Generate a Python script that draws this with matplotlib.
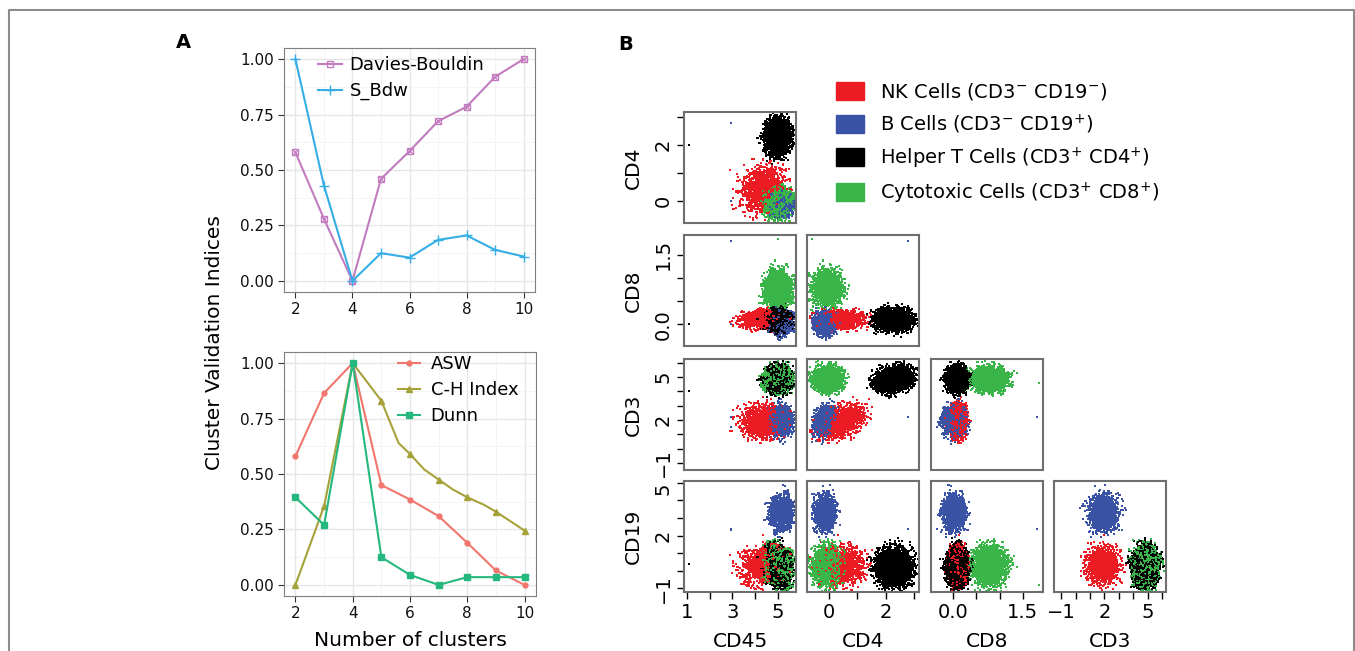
import numpy as np
import matplotlib.pyplot as plt
from matplotlib.lines import Line2D
from matplotlib.patches import Patch

plt.rcParams['font.family'] = 'DejaVu Sans'
plt.rcParams['mathtext.default'] = 'regular'

# ---------------- panel A data ----------------
n_clusters = [2, 3, 4, 5, 6, 7, 8, 9, 10]
davies_bouldin = [0.58, 0.28, 0.0, 0.46, 0.585, 0.72, 0.785, 0.92, 1.0]
s_bdw = [1.0, 0.43, 0.0, 0.125, 0.105, 0.185, 0.205, 0.14, 0.11]
asw = [0.58, 0.865, 1.0, 0.45, 0.385, 0.31, 0.19, 0.065, 0.0]
ch_index = [0.0, 0.355, 1.0, 0.83, 0.59, 0.475, 0.395, 0.33, 0.245]
ch_line_x = [2, 3, 4, 5, 5.6, 6, 6.5, 7, 7.5, 8, 8.6, 9, 10]
ch_line_y = [0.0, 0.355, 1.0, 0.83, 0.64, 0.59, 0.52, 0.475, 0.43, 0.395, 0.36, 0.33, 0.245]
dunn = [0.395, 0.27, 1.0, 0.125, 0.045, 0.0, 0.035, 0.035, 0.035]

# ---------------- panel B data ----------------
markers = ['CD45', 'CD4', 'CD8', 'CD3', 'CD19']
populations = ['NK Cells (CD3$^{-}$ CD19$^{-}$)', 'B Cells (CD3$^{-}$ CD19$^{+}$)',
               'Helper T Cells (CD3$^{+}$ CD4$^{+}$)', 'Cytotoxic Cells (CD3$^{+}$ CD8$^{+}$)']
pop_colors = ['#ED1C24', '#3A53A4', '#000000', '#3AB54A']
pop_counts = [1200, 1200, 3000, 2200]
# centre / spread of each population on each marker (CD45, CD4, CD8, CD3, CD19)
pop_means = [[4.35, 0.45, 0.1, 1.9, 0.3],
             [5.15, -0.15, 0.02, 1.95, 3.3],
             [5.0, 2.3, 0.1, 4.85, 0.2],
             [5.0, -0.05, 0.78, 4.85, 0.3]]
pop_sds = [[0.45, 0.38, 0.09, 0.55, 0.5],
           [0.24, 0.18, 0.12, 0.5, 0.5],
           [0.25, 0.3, 0.11, 0.4, 0.5],
           [0.28, 0.24, 0.18, 0.4, 0.5]]
# within-population correlations: (population, marker a, marker b, rho)
pop_corr = [(0, 'CD4', 'CD3', 0.45), (0, 'CD45', 'CD4', 0.15),
            (1, 'CD4', 'CD3', 0.3), (2, 'CD4', 'CD3', 0.2)]
# a few isolated events
outlier_pop = [2, 1, 3, 0, 1]
outlier_vals = [[1.1, 2.0, 0.0, 4.0, 0.4],
                [2.95, 2.8, 1.8, 2.2, 2.4],
                [5.0, -0.6, 1.85, 4.6, -0.8],
                [2.9, 1.1, 0.05, 1.2, 0.9],
                [2.95, 0.0, 0.0, 1.5, 2.3]]
marker_lims = {'CD45': (0.87, 5.8), 'CD4': (-0.79, 3.18), 'CD8': (-0.47, 1.93),
               'CD3': (-1.5, 6.27), 'CD19': (-1.2, 5.1)}
marker_ticks = {'CD45': [1, 2, 3, 4, 5], 'CD4': [0, 1, 2, 3], 'CD8': [0, 0.5, 1.0, 1.5],
                'CD3': [-1, 0, 1, 2, 3, 4, 5, 6], 'CD19': [-1, 0, 1, 2, 3, 4, 5]}
marker_ticklabels = {'CD45': {1: '1', 3: '3', 5: '5'}, 'CD4': {0: '0', 2: '2'},
                     'CD8': {0: '0.0', 1.5: '1.5'},
                     'CD3': {-1: '\u22121', 2: '2', 5: '5'},
                     'CD19': {-1: '\u22121', 2: '2', 5: '5'}}


def quasi_normal(n, dims, offset):
    # low discrepancy sequence pushed through Box-Muller, kept inside a ball
    d = 2 * dims
    g = 1.5
    for _ in range(40):
        g = (1 + g) ** (1.0 / (d + 1))
    alpha = (1.0 / g) ** np.arange(1, d + 1) % 1
    idx = np.arange(offset + 1, offset + 3 * n + 1)[:, None]
    u = (0.5 + idx * alpha) % 1
    r = np.sqrt(-2 * np.log(np.clip(u[:, :dims], 1e-6, 1)))
    z = r * np.cos(2 * np.pi * u[:, dims:])
    z = z[np.sqrt((z ** 2).sum(axis=1)) < 3.8]
    return z[:n]


W, H = 1355, 651
fig = plt.figure(figsize=(W / 100, H / 100), dpi=100)


def px_axes(l, t, w, h):
    return fig.add_axes([l / W, 1 - (t + h) / H, w / W, h / H])


# figure frame
fig.add_artist(Line2D([9 / W, 9 / W, 1354 / W, 1354 / W], [0, 1 - 10 / H, 1 - 10 / H, 0],
                      transform=fig.transFigure, color='#8c8c8c', lw=1.5))


def style_gg(ax):
    ax.set_xlim(1.6, 10.4)
    ax.set_ylim(-0.05, 1.05)
    ax.set_xticks([2, 4, 6, 8, 10])
    ax.set_yticks([0, 0.25, 0.5, 0.75, 1.0])
    ax.set_yticklabels(['0.00', '0.25', '0.50', '0.75', '1.00'])
    ax.set_xticks([3, 5, 7, 9], minor=True)
    ax.set_yticks([0.125, 0.375, 0.625, 0.875], minor=True)
    ax.grid(which='major', color='#e6e6e6', lw=1.0)
    ax.grid(which='minor', color='#f2f2f2', lw=0.6)
    ax.set_axisbelow(True)
    for s in ax.spines.values():
        s.set_color('#7f7f7f')
    ax.tick_params(which='major', length=4, color='#333333', labelsize=11, labelcolor='#111111')
    ax.tick_params(which='minor', length=0)


axA1 = px_axes(284, 48, 251, 244)
style_gg(axA1)
axA1.plot(n_clusters, davies_bouldin, color='#C27BBF', lw=1.5, marker='s', ms=5,
          mfc='none', mew=1.0)
axA1.plot(n_clusters, davies_bouldin, color='#C27BBF', lw=0, marker='x', ms=4, mew=0.8)
axA1.plot(n_clusters, s_bdw, color='#35AEE6', lw=1.5, marker='+', ms=7, mew=1.0)
hA1 = [Line2D([], [], color='#C27BBF', lw=1.5, marker='s', ms=5, mfc='none', mew=1.0),
       Line2D([], [], color='#35AEE6', lw=1.5, marker='+', ms=7, mew=1.0)]
axA1.legend(hA1, ['Davies-Bouldin', 'S_Bdw'], loc='upper left', bbox_to_anchor=(0.107, 0.997),
            frameon=False, fontsize=13, handlelength=1.3, handletextpad=0.45, labelspacing=0.45,
            borderaxespad=0)

axA2 = px_axes(284, 352, 252, 244)
style_gg(axA2)
axA2.plot(n_clusters, asw, color='#F0766E', lw=1.5, marker='o', ms=3.5)
axA2.plot(ch_line_x, ch_line_y, color='#A6A23A', lw=1.5)
axA2.plot(n_clusters, ch_index, color='#A6A23A', lw=0, marker='^', ms=5)
axA2.plot(n_clusters, dunn, color='#25B87E', lw=1.5, marker='s', ms=5)
hA2 = [Line2D([], [], color='#F0766E', lw=1.5, marker='o', ms=3.5),
       Line2D([], [], color='#A6A23A', lw=1.5, marker='^', ms=5),
       Line2D([], [], color='#25B87E', lw=1.5, marker='s', ms=5)]
axA2.legend(hA2, ['ASW', 'C-H Index', 'Dunn'], loc='upper left', bbox_to_anchor=(0.424, 1.018),
            frameon=False, fontsize=13, handlelength=1.2, handletextpad=0.6, labelspacing=0.45,
            borderaxespad=0)
axA2.set_xlabel('Number of clusters', fontsize=14.5, labelpad=7)

fig.text(215 / W, 1 - 343 / H, 'Cluster Validation Indices', rotation=90, fontsize=14.5,
         ha='center', va='center')
fig.text(183 / W, 1 - 43 / H, 'A', fontsize=14, fontweight='bold', ha='center', va='center')
fig.text(626 / W, 1 - 44 / H, 'B', fontsize=14, fontweight='bold', ha='center', va='center')

# ---------------- panel B ----------------
cols, colors = [], []
for p in range(len(populations)):
    z = quasi_normal(pop_counts[p], len(markers), offset=1000 * (p + 1))
    for q, a, b, rho in pop_corr:
        if q == p:
            ia, ib = markers.index(a), markers.index(b)
            z[:, ib] = rho * z[:, ia] + np.sqrt(1 - rho ** 2) * z[:, ib]
    cols.append(np.array(pop_means[p]) + z * np.array(pop_sds[p]))
    colors += [pop_colors[p]] * len(z)
for p, v in zip(outlier_pop, outlier_vals):
    cols.append(np.array([v]))
    colors.append(pop_colors[p])
events = np.vstack(cols)
colors = np.array(colors)
order = (np.arange(len(events)) * 7919) % len(events)
events, colors = events[order], colors[order]

col_left = [684, 807, 931, 1054]
row_top = [112, 235, 359, 481]
row_vars = ['CD4', 'CD8', 'CD3', 'CD19']
col_vars = ['CD45', 'CD4', 'CD8', 'CD3']


def set_marker_axis(ax, which, m):
    ticks = marker_ticks[m]
    labs = [marker_ticklabels[m].get(t, '') for t in ticks]
    if which == 'x':
        ax.set_xticks(ticks)
        ax.set_xticklabels(labs)
    else:
        ax.set_yticks(ticks)
        tl = ax.set_yticklabels(labs, rotation=90, va='center')
        # topmost label kept inside the panel, as in the source figure
        if ticks[-1] > marker_lims[m][1] - 0.05 * (marker_lims[m][1] - marker_lims[m][0]):
            tl[-1].set_va('top')


for i, rv in enumerate(row_vars):
    for j in range(i + 1):
        cv = col_vars[j]
        ax = px_axes(col_left[j], row_top[i], 112, 111)
        xi, yi = markers.index(cv), markers.index(rv)
        ax.scatter(events[:, xi], events[:, yi], c=colors, s=2.3, marker='s', linewidths=0)
        ax.set_xlim(marker_lims[cv])
        ax.set_ylim(marker_lims[rv])
        for s in ax.spines.values():
            s.set_color('#6e6e6e')
            s.set_linewidth(1.5)
        ax.tick_params(length=5, width=1, labelsize=14, pad=3)
        if j == 0:
            set_marker_axis(ax, 'y', rv)
            ax.set_ylabel(rv, fontsize=14.5, labelpad=8)
        else:
            ax.set_yticks([])
        if i == len(row_vars) - 1:
            set_marker_axis(ax, 'x', cv)
            ax.set_xlabel(cv, fontsize=14.5, labelpad=7)
        else:
            ax.set_xticks([])

handles = [Patch(color=c) for c in pop_colors]
fig.legend(handles, populations, loc='upper left', bbox_to_anchor=(818 / W, 1 - 64 / H),
           frameon=False, fontsize=14, handlelength=1.45, handleheight=1.05,
           handletextpad=0.85, labelspacing=0.5)

fig.savefig('out.png', dpi=100)
